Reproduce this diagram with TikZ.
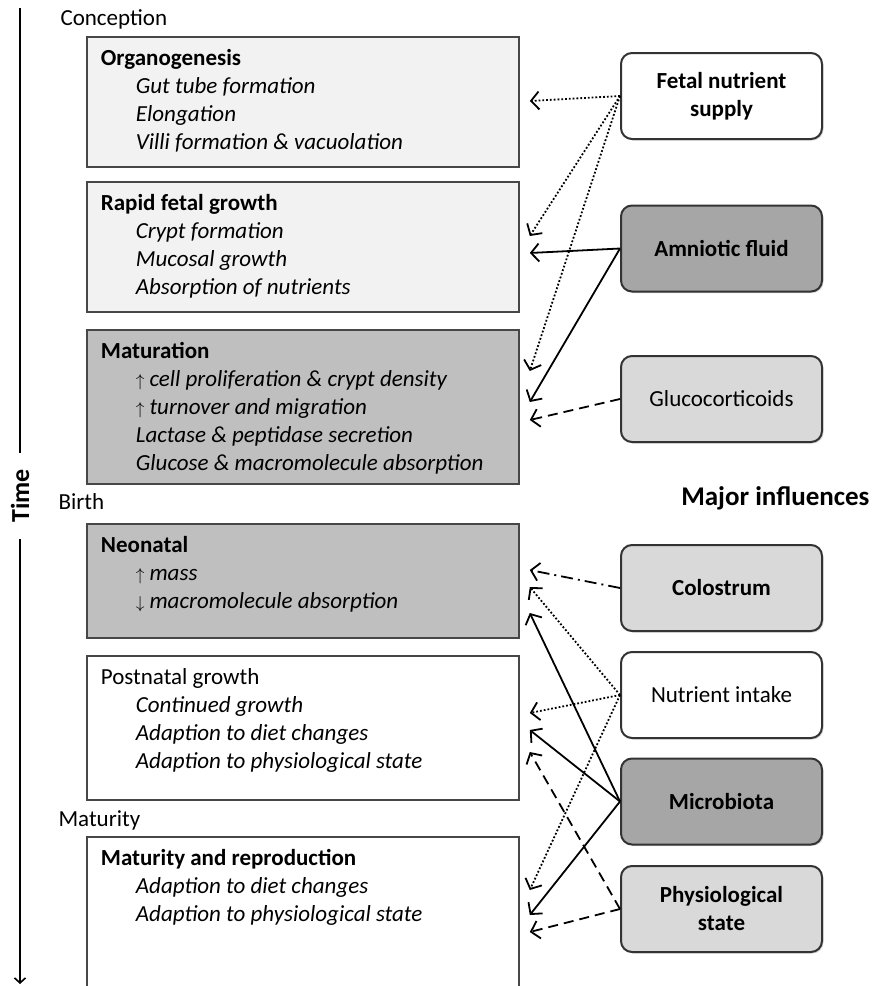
\documentclass[tikz,border=0pt]{standalone}
\usepackage{fontspec}
\setmainfont{Carlito}
\usetikzlibrary{calc,arrows.meta,shadows}

% text block inside a stage box: fixed height, first baseline 29pt down
\newcommand{\phase}[2]{\parbox[t][#1][t]{404pt}{\rule{0pt}{29pt}#2}}
\newcommand{\detail}[1]{\\\hspace*{35pt}\textit{#1}}
\newcommand{\up}{{\fontsize{18}{28}\selectfont$\uparrow$}\hspace{5pt}}
\newcommand{\down}{{\fontsize{18}{28}\selectfont$\downarrow$}\hspace{5pt}}

\tikzset{
  stage/.style={draw=black!72, line width=1.8pt, anchor=north west, inner xsep=14pt, inner ysep=0pt,
    drop shadow={shadow xshift=1.5pt, shadow yshift=-1.5pt, opacity=0.3}},
  influence/.style={draw=black!80, line width=2pt, rounded corners=11pt, minimum width=201pt,
    minimum height=86pt, align=center, font=\fontsize{23}{28}\selectfont\bfseries,
    drop shadow={shadow xshift=1.5pt, shadow yshift=-1.5pt, opacity=0.3}},
  link/.style={line width=1.8pt, -{Straight Barb[length=8pt,width=18pt]}},
  dotline/.style={dash pattern=on 1.8pt off 2pt},
  dashline/.style={dash pattern=on 10pt off 6pt},
  dashdotline/.style={dash pattern=on 12pt off 5pt on 2pt off 5pt},
}

\begin{document}
\begin{tikzpicture}[x=1pt,y=-1pt,font=\fontsize{23}{28}\selectfont]
%%%%% START %%%%%
\useasboundingbox (0,0) rectangle (873,986);

% time axis
\coordinate (ttop) at (20,8);
\coordinate (tbot) at (20,984);
\draw[line width=1.6pt, -{Straight Barb[length=5pt,width=11pt]}] (ttop) -- (tbot)
  node[midway, fill=white, rotate=90, inner xsep=16pt, font=\fontsize{26}{28}\selectfont\bfseries] (time) {Time};

\node[anchor=base west] (conception) at (57,25) {Conception};
\node[anchor=base west] (birth) at (55,509) {Birth};
\node[anchor=base west] (maturity) at (55,826) {Maturity};

% stages
\node[stage, fill=black!5] (organo) at (86,36) {\phase{130pt}{\textbf{Organogenesis}%
  \detail{Gut tube formation}\detail{Elongation}\detail{Villi formation \& vacuolation}}};
\node[stage, fill=black!5] (rapid) at (86,181) {\phase{130pt}{\textbf{Rapid fetal growth}%
  \detail{Crypt formation}\detail{Mucosal growth}\detail{Absorption of nutrients}}};
\node[stage, fill=black!25] (matur) at (86,329) {\phase{154pt}{\textbf{Maturation}%
  \detail{\up cell proliferation \& crypt density}\detail{\up turnover and migration}%
  \detail{Lactase \& peptidase secretion}\detail{Glucose \& macromolecule absorption}}};
\node[stage, fill=black!25] (neo) at (86,523) {\phase{114pt}{\textbf{Neonatal}%
  \detail{\up mass}\detail{\down macromolecule absorption}}};
\node[stage, fill=white] (postnatal) at (86,655) {\phase{144pt}{Postnatal growth%
  \detail{Continued growth}\detail{Adaption to diet changes}\detail{Adaption to physiological state}}};
\node[stage, fill=white] (repro) at (86,836) {\phase{170pt}{\textbf{Maturity and reproduction}%
  \detail{Adaption to diet changes}\detail{Adaption to physiological state}}};

% influences
\node[anchor=base east, font=\fontsize{27}{30}\selectfont\bfseries] (major) at (873,505) {Major influences};

\node[influence, fill=white] (fetal) at (721.5,96) {Fetal nutrient\\supply};
\node[influence, fill=black!35] (amnio) at (721.5,248.5) {Amniotic fluid};
\node[influence, fill=black!15, font=\fontsize{23}{28}\selectfont] (gluco) at (721.5,399) {Glucocorticoids};
\node[influence, fill=black!15] (colos) at (721.5,588) {Colostrum};
\node[influence, fill=white, font=\fontsize{23}{28}\selectfont] (intake) at (721.5,695) {Nutrient intake};
\node[influence, fill=black!35] (micro) at (721.5,801.5) {Microbiota};
\node[influence, fill=black!15] (physio) at (721.5,909) {Physiological\\state};

% connectors
\draw[link, dotline] (fetal.west) -- ($(organo.north east)+(10,65)$);
\draw[link, dotline] (fetal.west) -- ($(rapid.north east)+(10,55)$);
\draw[link, dotline] (fetal.west) -- ($(matur.north east)+(10,42)$);
\draw[link] (amnio.west) -- ($(rapid.north east)+(10,72)$);
\draw[link] (amnio.west) -- ($(matur.north east)+(10,73)$);
\draw[link, dashline] (gluco.west) -- ($(matur.north east)+(10,91)$);

\draw[link, dashdotline] (colos.west) -- ($(neo.north east)+(10,47)$);
\draw[link, dotline] (intake.west) -- ($(neo.north east)+(10,64)$);
\draw[link, dotline] (intake.west) -- ($(postnatal.north east)+(10,58)$);
\draw[link, dotline] (intake.west) -- ($(repro.north east)+(10,54)$);
\draw[link] (micro.west) -- ($(neo.north east)+(10,90)$);
\draw[link] (micro.west) -- ($(postnatal.north east)+(10,75)$);
\draw[link] (micro.west) -- ($(repro.north east)+(10,79)$);
\draw[link, dashline] (physio.west) -- ($(postnatal.north east)+(10,97)$);
\draw[link, dashline] (physio.west) -- ($(repro.north east)+(10,96)$);
%%%%% END %%%%%
\end{tikzpicture}
\end{document}
